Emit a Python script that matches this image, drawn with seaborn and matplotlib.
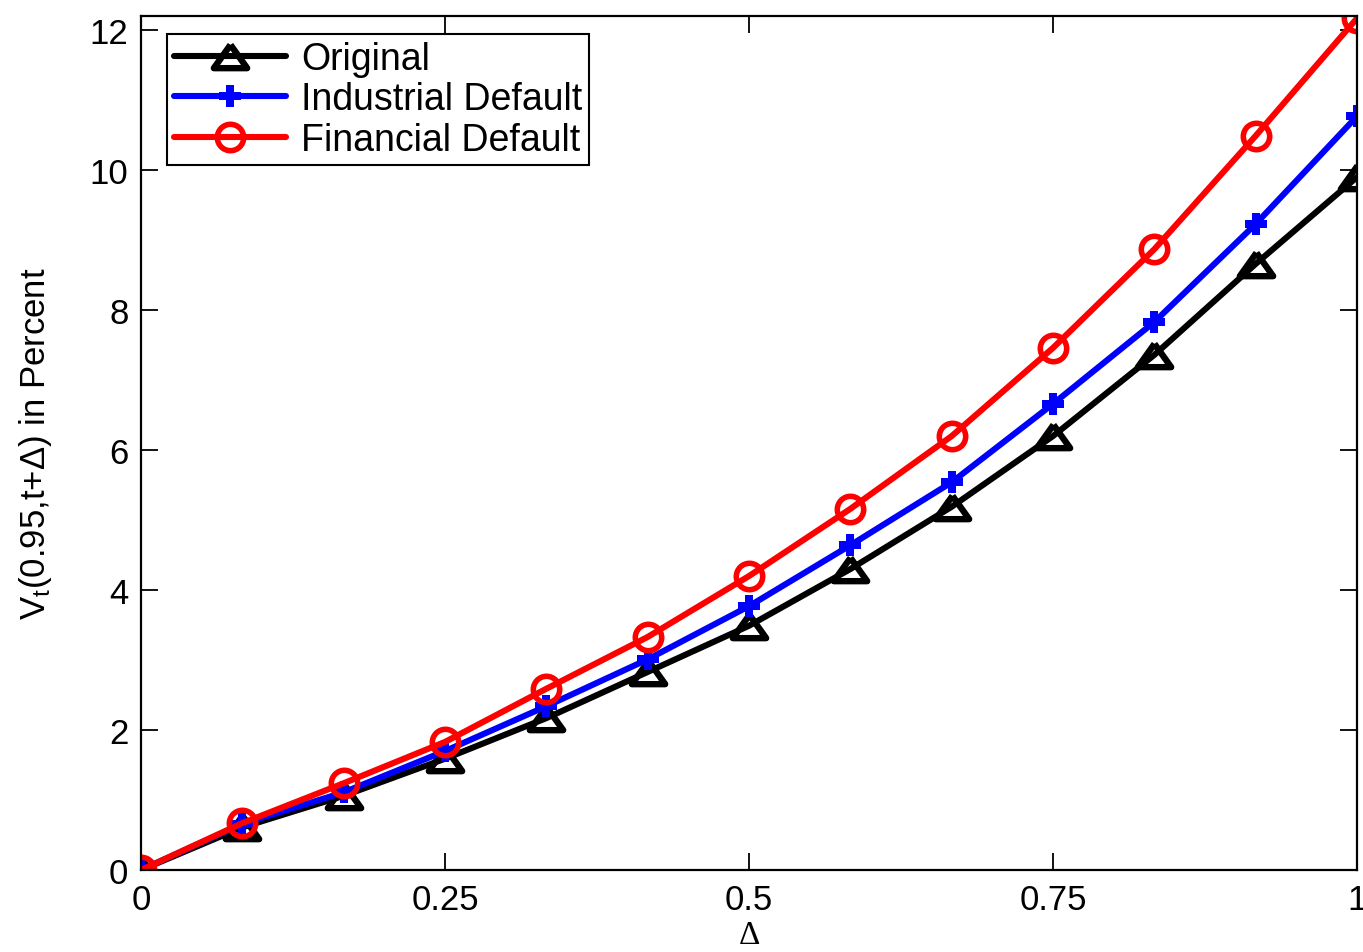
import numpy as np
import pandas as pd
import matplotlib
matplotlib.use("Agg")
import matplotlib.pyplot as plt
import seaborn as sns

# Horizon fractions (months of a year)
delta = [0, 1/12, 2/12, 3/12, 4/12, 5/12, 6/12, 7/12, 8/12, 9/12, 10/12, 11/12, 1]

original = [0.0, 0.61, 1.06, 1.59, 2.17, 2.83, 3.49, 4.30, 5.19, 6.20, 7.36, 8.66, 9.90]
industrial = [0.0, 0.66, 1.11, 1.70, 2.34, 3.01, 3.77, 4.64, 5.54, 6.66, 7.83, 9.23, 10.77]
financial = [0.0, 0.67, 1.24, 1.83, 2.59, 3.33, 4.20, 5.16, 6.20, 7.46, 8.87, 10.49, 12.17]

series_names = ["Original", "Industrial Default", "Financial Default"]
x_ticks = [0, 0.25, 0.5, 0.75, 1]
x_tick_labels = ["0", "0.25", "0.5", "0.75", "1"]
y_ticks = [0, 2, 4, 6, 8, 10, 12]

sns.set_style("ticks")
plt.rcParams["font.family"] = ["Liberation Sans", "DejaVu Sans"]
plt.rcParams["mathtext.fontset"] = "custom"
plt.rcParams["mathtext.rm"] = "Liberation Sans"
plt.rcParams["mathtext.it"] = "Liberation Sans"
for key in ["text.color", "axes.labelcolor", "xtick.color", "ytick.color",
            "axes.edgecolor"]:
    plt.rcParams[key] = "black"

FS = 25

fig = plt.figure(figsize=(13.63, 9.53), dpi=100)
ax = fig.add_axes([0.1034, 0.086, 0.8922, 0.896])

df = pd.DataFrame({"delta": delta, "Original": original,
                   "Industrial Default": industrial,
                   "Financial Default": financial})

# wide, flat triangle
wide_triangle = [(0, 0.7), (-1, -0.7), (1, -0.7), (0, 0.7)]

styles = {
    "Original": dict(color="black", marker=wide_triangle, markersize=24,
                     mfc="none", mec="black", mew=4.6),
    "Industrial Default": dict(color="#0000ff", marker="P", markersize=16,
                               mfc="#0000ff", mec="#0000ff", mew=0),
    "Financial Default": dict(color="#ff0000", marker="o", markersize=19,
                              mfc="none", mec="#ff0000", mew=4.0),
}

for name in series_names:
    sns.lineplot(data=df, x="delta", y=name, ax=ax, label=name,
                 linewidth=4.4, **styles[name])

ax.set_xlim(0, 1)
ax.set_ylim(0, 12.2)
ax.set_xticks(x_ticks)
ax.set_xticklabels(x_tick_labels)
ax.set_yticks(y_ticks)

for side in ["top", "right", "left", "bottom"]:
    ax.spines[side].set_visible(True)
    ax.spines[side].set_linewidth(1.6)
    ax.spines[side].set_color("black")

ax.tick_params(axis="both", which="major", direction="in", length=12,
               width=1.3, labelsize=FS, top=True, right=True, pad=9,
               colors="black")

ax.set_xlabel("Δ", fontsize=24, family=["Liberation Serif", "DejaVu Serif"],
              labelpad=3)
ax.set_ylabel(r"V$_{t}$(0.95,t+Δ) in Percent", fontsize=FS, labelpad=26)

leg = ax.legend(loc="upper left", bbox_to_anchor=(0.0214, 0.979), fontsize=27,
                frameon=True, fancybox=False, edgecolor="black",
                handlelength=3.0, borderpad=0.18, labelspacing=0.12,
                handletextpad=0.4, borderaxespad=0.0)
leg.get_frame().set_linewidth(1.5)
leg.get_frame().set_alpha(1)

fig.savefig("out.png", dpi=100, facecolor="white")
